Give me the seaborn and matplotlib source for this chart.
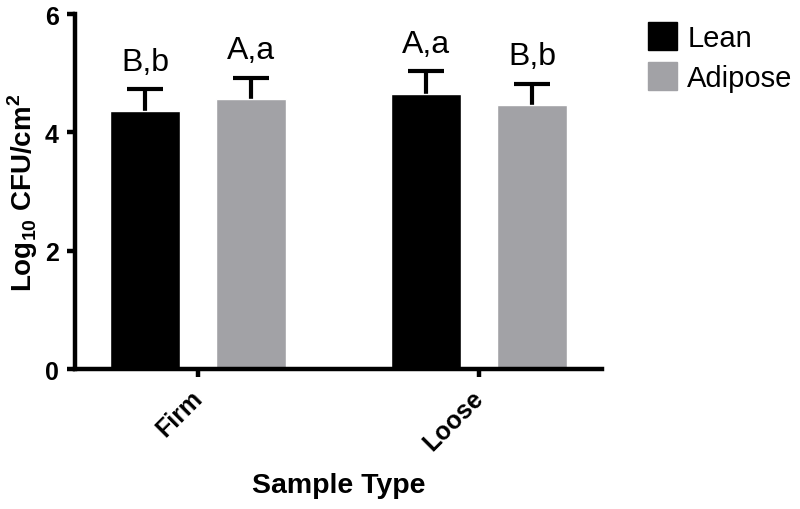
import pandas as pd
import seaborn as sns
from matplotlib import pyplot as plt
from matplotlib.patches import Patch
from matplotlib.transforms import ScaledTranslation

# valori
sample_types = ["Firm", "Loose"]
tissues = ["Lean", "Adipose"]
lean_mean = [4.36, 4.65]
adipose_mean = [4.56, 4.46]
lean_sd = [0.37, 0.38]
adipose_sd = [0.36, 0.36]
lean_letters = ["B,b", "A,a"]
adipose_letters = ["A,a", "B,b"]
colors = ["#000000", "#a2a2a6"]

df = pd.DataFrame({
    "Sample Type": sample_types * 2,
    "Tissue": ["Lean"] * 2 + ["Adipose"] * 2,
    "value": lean_mean + adipose_mean,
})

sns.set_style("ticks", {"axes.edgecolor": "black", "text.color": "black",
                        "axes.labelcolor": "black", "xtick.color": "black",
                        "ytick.color": "black"})
plt.rcParams["font.family"] = ["Liberation Sans", "DejaVu Sans"]
plt.rcParams["mathtext.fontset"] = "custom"
plt.rcParams["mathtext.rm"] = "Liberation Sans"
plt.rcParams["mathtext.bf"] = "Liberation Sans:bold"

fig = plt.figure(figsize=(8, 5.1), dpi=100)
ax = fig.add_axes([0.094, 0.2745, 0.6585, 0.696])

sns.barplot(data=df, x="Sample Type", y="value", hue="Tissue", hue_order=tissues,
            palette=colors, width=0.754, gap=0.34, errorbar=None, legend=False,
            saturation=1, ax=ax, zorder=2)

sds = [lean_sd, adipose_sd]
letters = [lean_letters, adipose_letters]
for cont, sd, lab in zip(ax.containers, sds, letters):
    xs = [p.get_x() + p.get_width() / 2 for p in cont.patches]
    ys = [p.get_height() for p in cont.patches]
    eb = ax.errorbar(xs, ys, yerr=[[0] * len(sd), sd], fmt="none", ecolor="black",
                     elinewidth=3, capsize=13, capthick=3, zorder=1)
    eb[1][0].set_visible(False)  # solo la barra superiore
    for x, y, s, t in zip(xs, ys, sd, lab):
        ax.annotate(t, (x, y + s), xytext=(0, 14), textcoords="offset points",
                    ha="center", va="baseline", fontsize=23)

ax.set_xlim(-0.438, 1.436)
ax.set_ylim(0, 6)
ax.set_yticks([0, 2, 4, 6])
sns.despine(ax=ax)
for sp in ["left", "bottom"]:
    ax.spines[sp].set_linewidth(3.2)
ax.tick_params(width=3.2, length=6, pad=6)
plt.setp(ax.get_yticklabels(), fontweight="bold", fontsize=18)
plt.setp(ax.get_xticklabels(), rotation=45, ha="right", rotation_mode="anchor",
         fontweight="bold", fontsize=18)
shift = ScaledTranslation(-6 / 72, 0, fig.dpi_scale_trans)
for t in ax.get_xticklabels():
    t.set_transform(t.get_transform() + shift)

ax.set_xlabel("Sample Type", fontsize=20.5, fontweight="bold", labelpad=12)
ax.set_ylabel(r"Log$_{\mathbf{10}}$ CFU/cm$^{\mathbf{2}}$", fontsize=20,
              fontweight="bold", labelpad=3)

handles = [Patch(facecolor=c, edgecolor=c) for c in colors]
fig.legend(handles, tissues, loc="upper left", bbox_to_anchor=(0.81, 0.955),
           frameon=False, fontsize=21, handlelength=1.0, handleheight=1.1,
           labelspacing=0.35, handletextpad=0.35, borderaxespad=0, borderpad=0)

fig.savefig("out.png", dpi=100)
